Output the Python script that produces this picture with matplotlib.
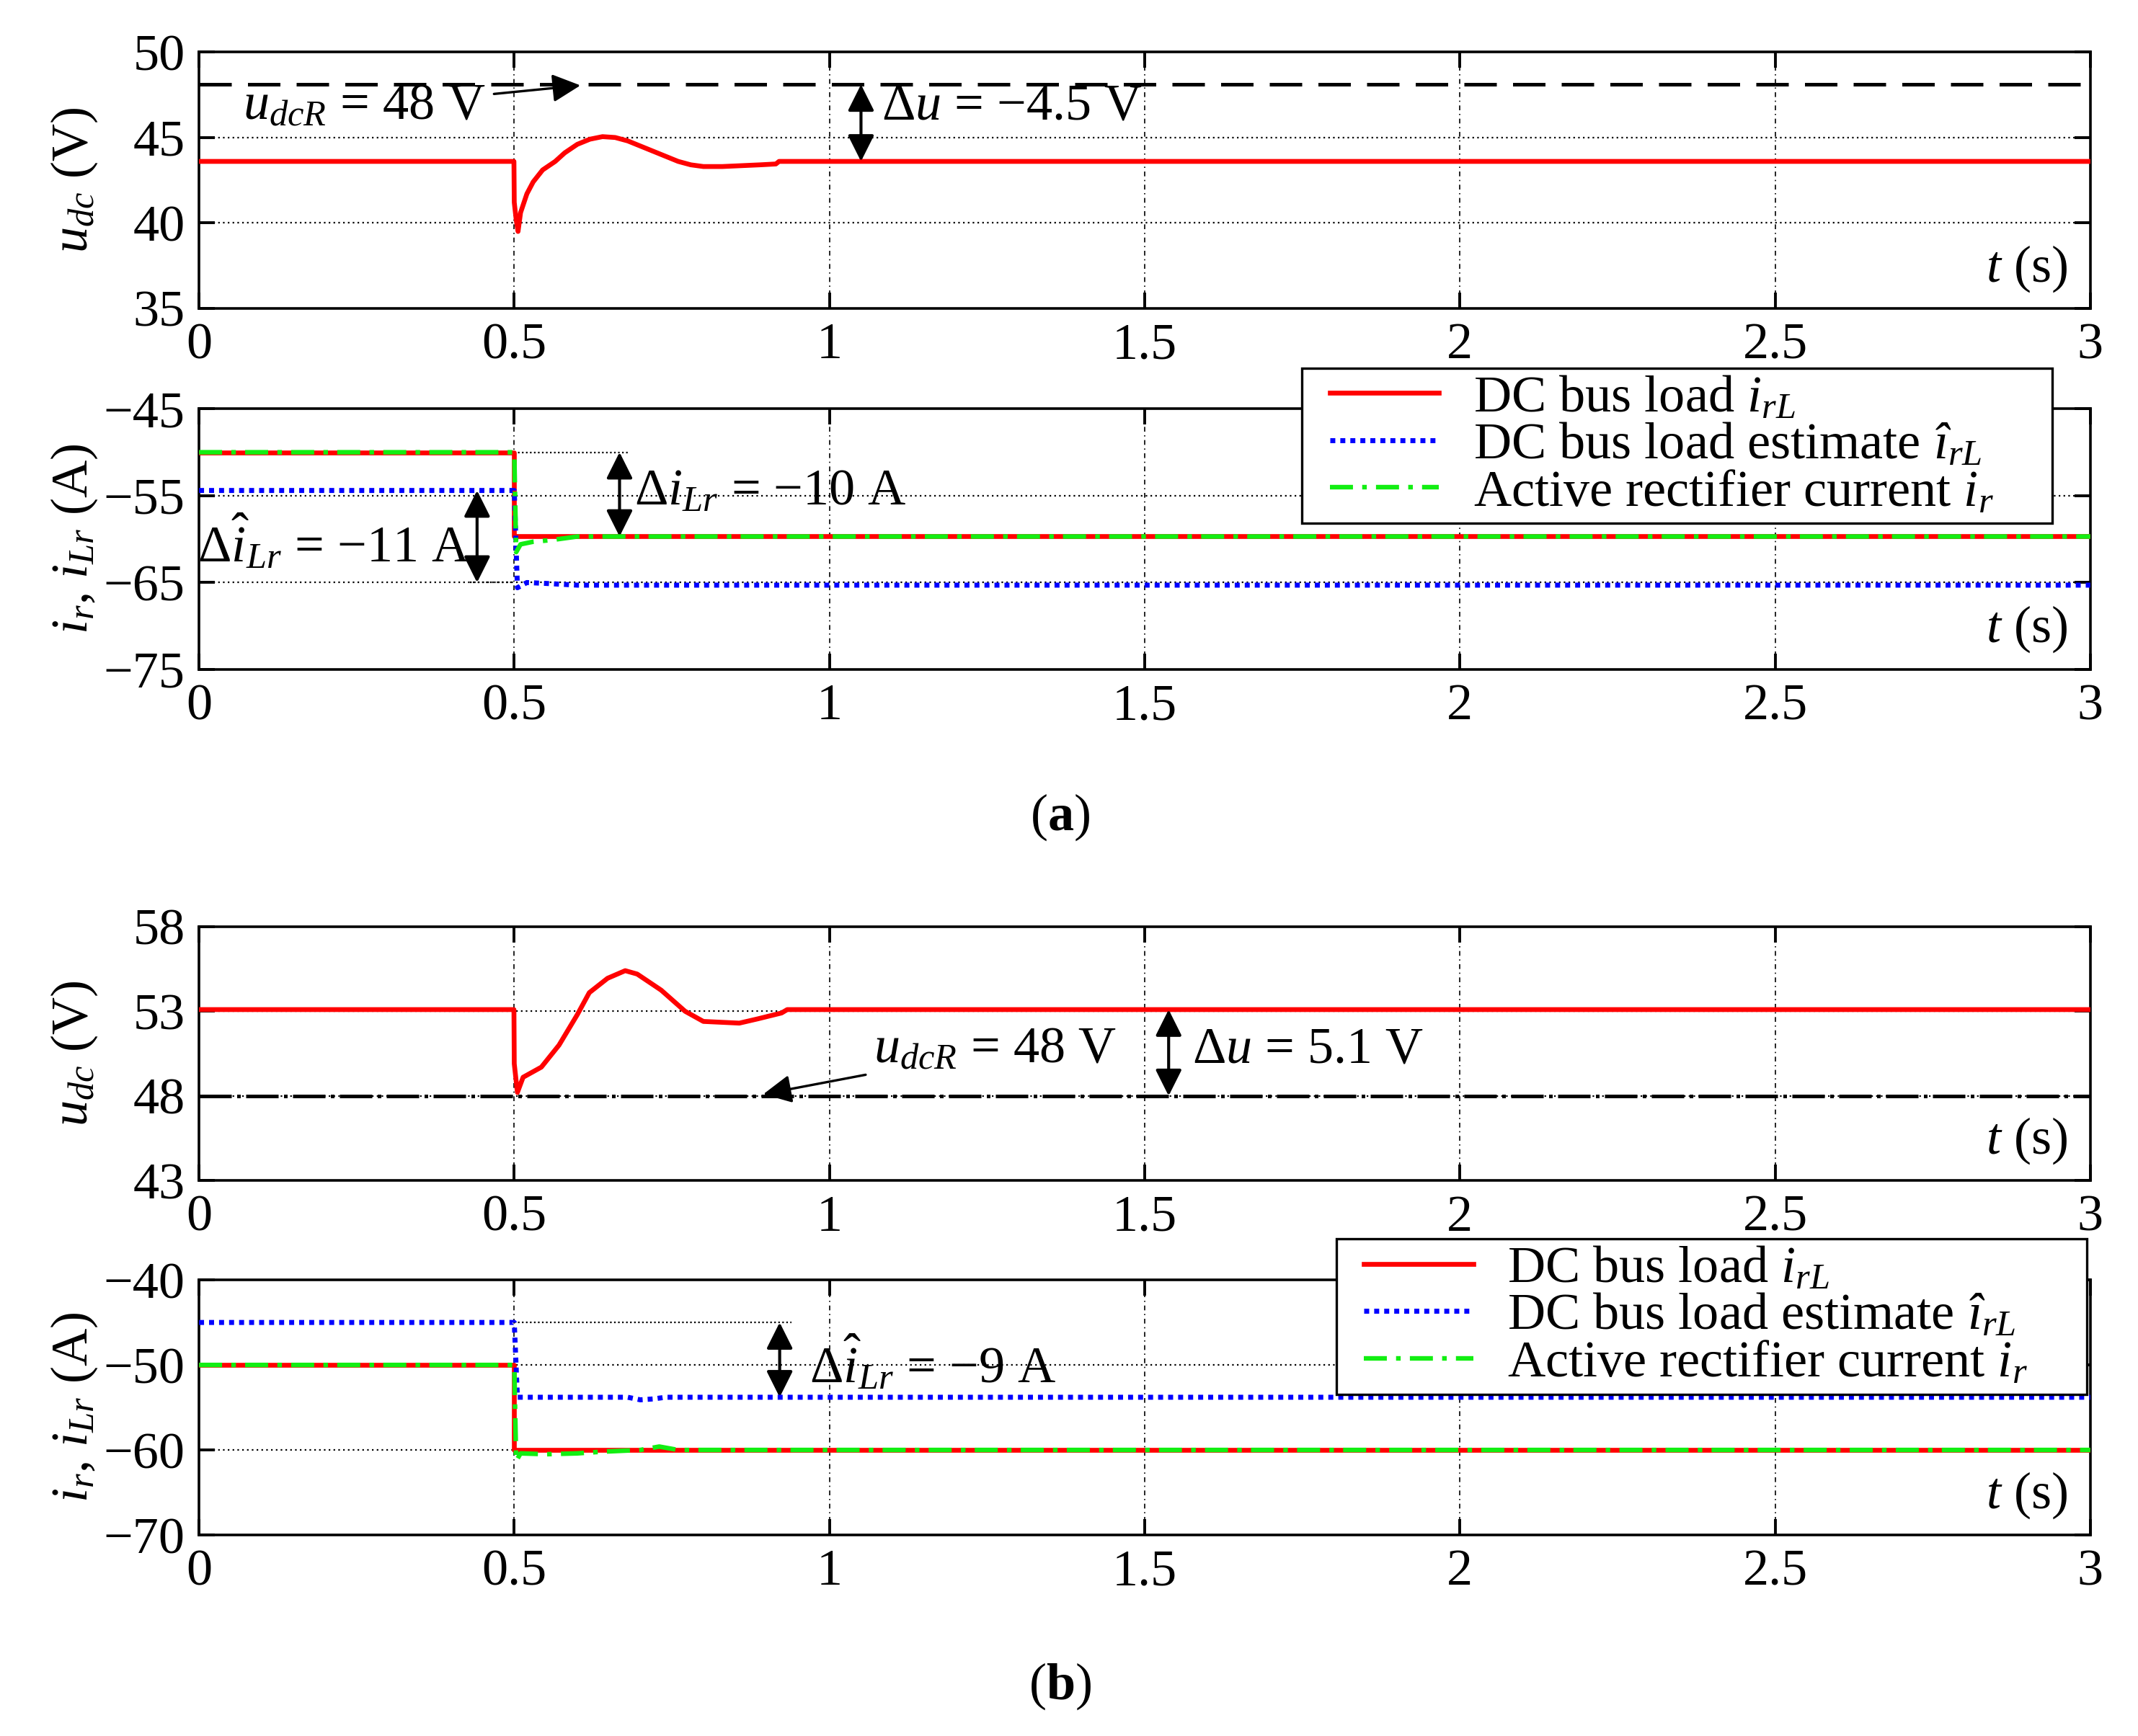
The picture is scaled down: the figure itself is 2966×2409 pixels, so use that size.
import numpy as np
import matplotlib
matplotlib.use('Agg')
from matplotlib import pyplot as plt
from matplotlib.lines import Line2D
from matplotlib.legend_handler import HandlerLine2D

plt.rcParams['font.family'] = ['Liberation Serif', 'DejaVu Serif']
plt.rcParams['mathtext.fontset'] = 'custom'
plt.rcParams['mathtext.rm'] = 'Liberation Serif'
plt.rcParams['mathtext.it'] = 'Liberation Serif:italic'
plt.rcParams['mathtext.bf'] = 'Liberation Serif:bold'
plt.rcParams['axes.unicode_minus'] = True

# shared time axis
xticks = [0, 0.5, 1, 1.5, 2, 2.5, 3]
xticklabels = ['0', '0.5', '1', '1.5', '2', '2.5', '3']

# ---- case (a): dc bus voltage
ua_t = [0, 0.4995, 0.5, 0.503, 0.506, 0.51, 0.52, 0.53, 0.545, 0.565, 0.58, 0.60, 0.62,
        0.64, 0.66, 0.68, 0.70, 0.72, 0.74, 0.76, 0.78, 0.80, 0.83, 0.86, 0.89, 0.915, 0.92, 3]
ua_v = [43.6, 43.6, 41.2, 40.2, 39.5, 40.6, 41.7, 42.4, 43.1, 43.6, 44.1, 44.6, 44.9,
        45.05, 45.0, 44.8, 44.5, 44.2, 43.9, 43.6, 43.4, 43.3, 43.3, 43.35, 43.4, 43.45, 43.6, 43.6]
ua_ref = 48.1

# ---- case (a): currents
ia_load_t = [0, 0.5, 0.5, 3]
ia_load_v = [-50, -50, -59.7, -59.7]
ia_est_t = [0, 0.5, 0.505, 0.52, 0.55, 0.6, 3]
ia_est_v = [-54.4, -54.4, -65.6, -65.0, -65.1, -65.3, -65.3]
ia_rect_t = [0, 0.5, 0.503, 0.51, 0.53, 0.56, 0.6, 3]
ia_rect_v = [-50, -50, -61.5, -60.6, -60.3, -60.1, -59.7, -59.7]

# ---- case (b): dc bus voltage
ub_t = [0, 0.4995, 0.5, 0.505, 0.514, 0.543, 0.571, 0.60, 0.619, 0.648, 0.676, 0.695,
        0.733, 0.771, 0.80, 0.857, 0.886, 0.924, 0.933, 3]
ub_v = [53.1, 53.1, 49.9, 48.2, 49.1, 49.7, 51.0, 52.8, 54.1, 54.95, 55.4, 55.2,
        54.25, 53.0, 52.4, 52.3, 52.55, 52.9, 53.1, 53.1]
ub_ref = 48.0

# ---- case (b): currents
ib_load_t = [0, 0.5, 0.5, 3]
ib_load_v = [-50, -50, -60, -60]
ib_est_t = [0, 0.5, 0.505, 0.68, 0.70, 0.72, 0.74, 3]
ib_est_v = [-45, -45, -53.8, -53.8, -54.1, -54.0, -53.8, -53.8]
ib_rect_t = [0, 0.5, 0.503, 0.51, 0.55, 0.60, 0.64, 0.70, 0.73, 0.76, 3]
ib_rect_v = [-50, -50, -61.3, -60.4, -60.5, -60.4, -60.2, -60.0, -59.6, -60.0, -60.0]

legend_labels = [r'DC bus load $i_{rL}$',
                 r'DC bus load estimate $\mathit{î}_{rL}$',
                 r'Active rectifier current $i_r$']

FS = 26
RED, BLUE, GREEN = '#ff0000', '#0000ff', '#12ee12'


def setup(ax, ylim, yticks, ylabel):
    ax.set_xlim(0, 3)
    ax.set_ylim(*ylim)
    ax.set_xticks(xticks)
    ax.set_xticklabels(xticklabels)
    ax.set_yticks(yticks)
    ax.tick_params(direction='in', length=8, width=1.4, labelsize=FS,
                   top=True, right=True, pad=7)
    for s in ax.spines.values():
        s.set_linewidth(1.3)
    for x in xticks[1:-1]:
        ax.axvline(x, color='k', lw=0.6, ls=(0, (4, 3, 1, 3)), zorder=1)
    for y in yticks[1:-1]:
        ax.axhline(y, color='k', lw=0.8, ls=(0, (1, 2)), zorder=1)
    ax.text(0.988, 0.155, r'$t$ (s)', transform=ax.transAxes, ha='right',
            va='center', fontsize=FS)
    ax.text(-0.066, 0.5, ylabel, transform=ax.transAxes, rotation=90,
            ha='center', va='center', fontsize=FS)


def double_arrow(ax, x, y0, y1):
    ax.annotate('', xy=(x, y1), xytext=(x, y0),
                arrowprops=dict(arrowstyle='<|-|>', color='k', lw=1.5,
                                mutation_scale=28, shrinkA=0, shrinkB=0))


def currents(ax, lt, lv, et, ev, rt, rv):
    h1, = ax.plot(lt, lv, color=RED, lw=2.4, zorder=3)
    h2, = ax.plot(et, ev, color=BLUE, lw=2.5, ls=(0, (1, 1)), zorder=4)
    h3, = ax.plot(rt, rv, color=GREEN, lw=2.3, ls=(0, (5, 2, 1, 2)), zorder=5)
    return [h1, h2, h3]


def legend(ax, fig, handles, anchor):
    leg = ax.legend(handles=handles, labels=legend_labels, loc='upper left',
                    bbox_to_anchor=anchor, bbox_transform=fig.transFigure,
                    mode='expand', fontsize=FS, handlelength=2.5, handletextpad=0.66,
                    labelspacing=0.0, borderpad=0.13, borderaxespad=0,
                    fancybox=False, framealpha=1, edgecolor='k',
                    handler_map={Line2D: HandlerLine2D(xpad=0.4)})
    leg.get_frame().set_linewidth(1.2)
    leg.set_zorder(10)


fig = plt.figure(figsize=(14.83, 12.045), dpi=200)
left, width = 0.0931, 0.8846
ax1 = fig.add_axes([left, 0.8224, width, 0.1476])
ax2 = fig.add_axes([left, 0.6144, width, 0.1501])
ax3 = fig.add_axes([left, 0.3200, width, 0.1462])
ax4 = fig.add_axes([left, 0.1158, width, 0.1469])

# (a) voltage
setup(ax1, (35, 50), [35, 40, 45, 50], r'$u_{dc}$ (V)')
ax1.plot(ua_t, ua_v, color=RED, lw=2.4, zorder=3)
ax1.axhline(ua_ref, color='k', lw=1.8, ls=(0, (9, 4.5)), zorder=2)
ax1.annotate(r'$u_{dcR}$ = 48 V', xy=(0.605, 48.05), xytext=(0.07, 46.8),
             fontsize=FS, va='center', ha='left',
             arrowprops=dict(arrowstyle='-|>', color='k', lw=1.2,
                             mutation_scale=30, shrinkA=2, shrinkB=0))
double_arrow(ax1, 1.05, ua_ref, ua_v[-1])
ax1.text(1.083, 46.8, r'$\Delta u$ = $-$4.5 V', fontsize=FS, va='center')

# (a) currents
setup(ax2, (-75, -45), [-75, -65, -55, -45], r'$i_r$, $i_{Lr}$ (A)')
ha = currents(ax2, ia_load_t, ia_load_v, ia_est_t, ia_est_v, ia_rect_t, ia_rect_v)
ax2.plot([0.5, 0.68], [-50, -50], color='k', lw=0.8, ls=(0, (1, 1.5)), zorder=2)
ax2.plot([0.43, 0.5], [-65, -65], color='k', lw=0.8, ls=(0, (1, 1.5)), zorder=2)
double_arrow(ax2, 0.667, -50, -59.7)
ax2.text(0.69, -54.6, r'$\Delta i_{Lr}$ = $-$10 A', fontsize=FS, va='center')
double_arrow(ax2, 0.441, -54.4, -65)
ax2.text(0.43, -60.4, r'$\Delta \hat{i}_{Lr}$ = $-$11 A', fontsize=FS,
         va='center', ha='right')
legend(ax2, fig, ha, (0.609, 0.700, 0.351, 0.088))

fig.text(0.4957, 0.529, r'($\mathbf{a}$)', ha='center', va='center', fontsize=FS)

# (b) voltage
setup(ax3, (43, 58), [43, 48, 53, 58], r'$u_{dc}$ (V)')
ax3.plot(ub_t, ub_v, color=RED, lw=2.4, zorder=3)
ax3.axhline(ub_ref, color='k', lw=1.8, ls=(0, (9, 1.5, 1, 1.5)), zorder=2)
ax3.annotate(r'$u_{dcR}$ = 48 V', xy=(0.895, 48.1), xytext=(1.07, 50.7),
             fontsize=FS, va='center', ha='left',
             arrowprops=dict(arrowstyle='-|>', color='k', lw=1.2,
                             mutation_scale=30, shrinkA=2, shrinkB=0))
double_arrow(ax3, 1.538, ub_v[-1], ub_ref)
ax3.text(1.575, 50.7, r'$\Delta u$ = 5.1 V', fontsize=FS, va='center')

# (b) currents
setup(ax4, (-70, -40), [-70, -60, -50, -40], r'$i_r$, $i_{Lr}$ (A)')
hb = currents(ax4, ib_load_t, ib_load_v, ib_est_t, ib_est_v, ib_rect_t, ib_rect_v)
ax4.plot([0.5, 0.94], [-45, -45], color='k', lw=0.8, ls=(0, (1, 1.5)), zorder=2)
double_arrow(ax4, 0.921, -45, -53.8)
ax4.text(0.968, -49.8, r'$\Delta \hat{i}_{Lr}$ = $-$9 A', fontsize=FS, va='center')
legend(ax4, fig, hb, (0.625, 0.1984, 0.351, 0.088))

fig.text(0.4957, 0.0287, r'($\mathbf{b}$)', ha='center', va='center', fontsize=FS)

fig.savefig('out.png', dpi=200)
